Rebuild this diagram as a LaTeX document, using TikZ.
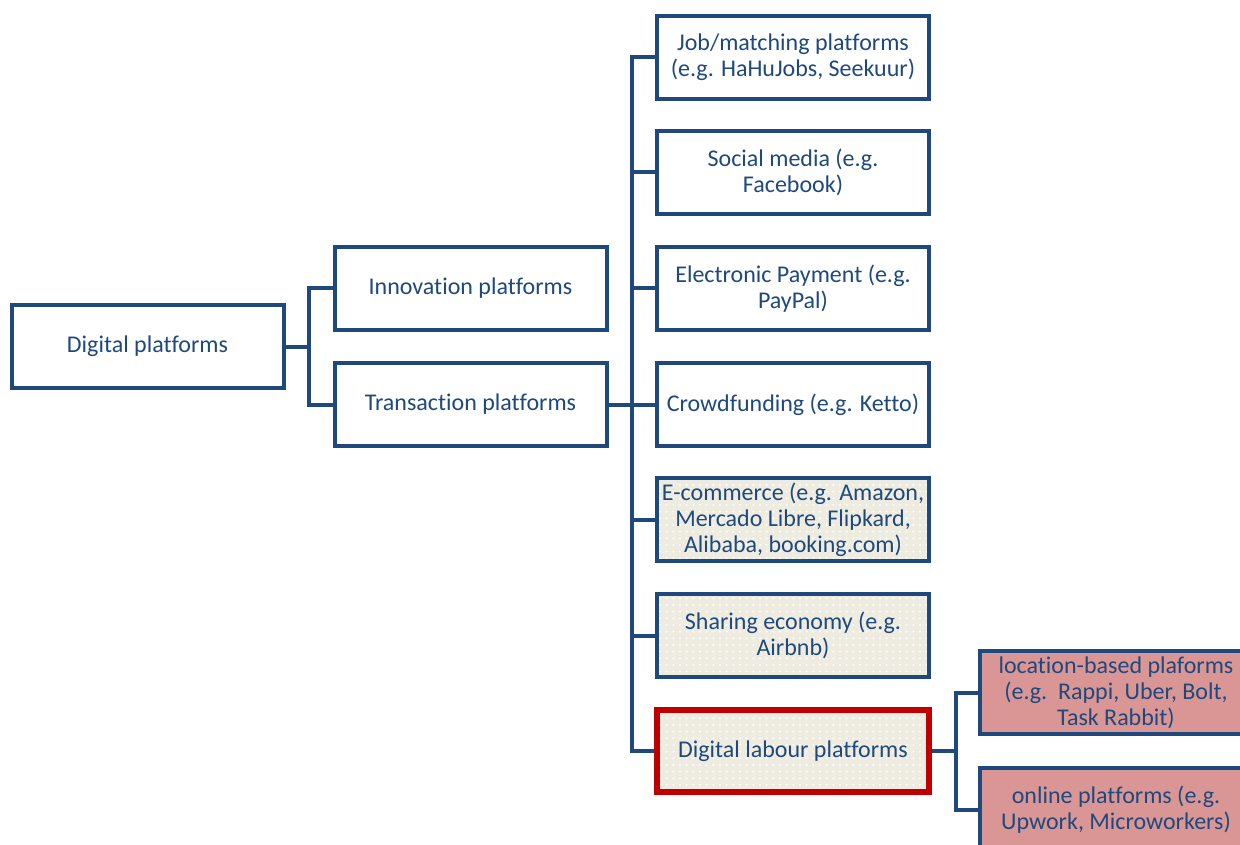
\documentclass[tikz,border=0pt]{standalone}
\usepackage{fontspec}
\setmainfont{Carlito}[Ligatures=NoCommon]
\usetikzlibrary{patterns}
\definecolor{platblue}{RGB}{31,73,125}
\definecolor{platred}{RGB}{192,0,0}
\definecolor{platpink}{RGB}{217,150,148}
\definecolor{platbeige}{RGB}{238,236,225}
\pgfdeclarepatternformonly{sparse dots}{\pgfqpoint{-1pt}{-1pt}}{\pgfqpoint{1pt}{1pt}}{\pgfqpoint{5pt}{5pt}}%
    {\pgfpathcircle{\pgfqpoint{0pt}{0pt}}{0.75pt}\pgfusepath{fill}}
\begin{document}
\begin{tikzpicture}[x=0.75pt, y=-0.75pt]
        \useasboundingbox (0,0) rectangle (1240,845);
        \clip (0,0) rectangle (1240,845);
        \begin{scope}[every node/.style = {draw=platblue, line width=3pt, fill=white, text=platblue,
                minimum width=204pt, minimum height=62pt, align=center, inner sep=1pt,
                font=\fontsize{18}{19.5}\selectfont},
                dotted box/.style = {preaction={fill=platbeige}, pattern=sparse dots, pattern color=white},
                pink box/.style = {fill=platpink}]
            \node (dig) at (147.5, 346.5) {Digital platforms};
            \node (inno) at (470.5, 288.5) {Innovation platforms};
            \node (trans) at (470.5, 404.5) {Transaction platforms};
            \node (job) at (793, 57.5) {Job/matching platforms\\(e.g. HaHuJobs, Seekuur)};
            \node (soc) at (793, 172.5) {Social media (e.g.\\Facebook)};
            \node (pay) at (793, 288.5) {Electronic Payment (e.g.\\PayPal)};
            \node (crowd) at (793, 404.5) {Crowdfunding (e.g. Ketto)};
            \node[dotted box] (ecom) at (793, 519.5) {E-commerce (e.g. Amazon,\\Mercado Libre, Flipkard,\\Alibaba, booking.com)};
            \node[dotted box] (share) at (793, 635.5) {Sharing economy (e.g.\\Airbnb)};
            \node[dotted box, draw=platred, line width=4.5pt] (lab) at (793, 751) {Digital labour platforms};
            \node[pink box] (loc) at (1116, 692.5) {location-based plaforms\\(e.g.\ \ Rappi, Uber, Bolt,\\Task Rabbit)};
            \node[pink box] (onl) at (1116, 809.5) {online platforms (e.g.\\Upwork, Microworkers)};
        \end{scope}
        \begin{scope}[platblue, line width=3pt]
        \coordinate (j1) at (309, 346.5);
        \coordinate (j2) at (632, 404.5);
        \coordinate (j3) at (956, 751);
        \draw (dig) -- (j1);
        \draw (j1) |- (inno);
        \draw (j1) |- (trans);
        \draw (trans) -- (j2);
        \foreach \n in {job, soc, pay, crowd, ecom, share, lab}
            \draw (j2) |- (\n);
        \draw (lab) -- (j3);
        \draw (j3) |- (loc);
        \draw (j3) |- (onl);
        \end{scope}
    \end{tikzpicture}
\end{document}
